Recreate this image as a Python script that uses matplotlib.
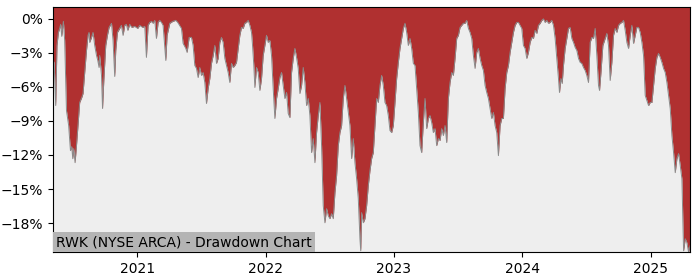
import numpy as np
import pandas as pd
import matplotlib
matplotlib.use("Agg")
import matplotlib.pyplot as plt
from matplotlib.ticker import MultipleLocator, PercentFormatter
import matplotlib.dates as mdates

# time in decimal years, drawdown in percent
t = [2020.345, 2020.354, 2020.366, 2020.376, 2020.387, 2020.397, 2020.405, 2020.413, 2020.426, 2020.436,
     2020.450, 2020.467, 2020.481, 2020.491, 2020.499, 2020.506, 2020.517, 2020.528, 2020.538, 2020.553,
     2020.569, 2020.579, 2020.592, 2020.606, 2020.618, 2020.626, 2020.631, 2020.645, 2020.657, 2020.670,
     2020.684, 2020.694, 2020.704, 2020.709, 2020.723, 2020.731, 2020.741, 2020.756, 2020.769, 2020.782,
     2020.801, 2020.813, 2020.826, 2020.834, 2020.847, 2020.865, 2020.878, 2020.891, 2020.904, 2020.917,
     2020.928, 2020.943, 2020.959, 2020.982, 2021.005, 2021.021, 2021.044, 2021.060, 2021.073, 2021.086,
     2021.099, 2021.114, 2021.125, 2021.138, 2021.151, 2021.164, 2021.177, 2021.190, 2021.203, 2021.224,
     2021.234, 2021.255, 2021.278, 2021.302, 2021.317, 2021.346, 2021.359, 2021.380, 2021.390, 2021.406,
     2021.424, 2021.437, 2021.450, 2021.463, 2021.476, 2021.489, 2021.502, 2021.515, 2021.528, 2021.541,
     2021.554, 2021.567, 2021.580, 2021.593, 2021.606, 2021.619, 2021.632, 2021.645, 2021.658, 2021.671,
     2021.684, 2021.697, 2021.710, 2021.723, 2021.736, 2021.749, 2021.762, 2021.775, 2021.788, 2021.801,
     2021.814, 2021.827, 2021.840, 2021.853, 2021.866, 2021.879, 2021.892, 2021.900, 2021.910, 2021.918,
     2021.931, 2021.944, 2021.957, 2021.970, 2021.983, 2021.996, 2022.009, 2022.022, 2022.035, 2022.048,
     2022.061, 2022.074, 2022.087, 2022.100, 2022.113, 2022.126, 2022.139, 2022.152, 2022.165, 2022.178,
     2022.191, 2022.204, 2022.217, 2022.230, 2022.243, 2022.256, 2022.269, 2022.282, 2022.295, 2022.308,
     2022.321, 2022.334, 2022.347, 2022.360, 2022.373, 2022.386, 2022.399, 2022.412, 2022.425, 2022.438,
     2022.451, 2022.464, 2022.477, 2022.490, 2022.503, 2022.516, 2022.529, 2022.542, 2022.555, 2022.568,
     2022.581, 2022.594, 2022.607, 2022.620, 2022.633, 2022.646, 2022.659, 2022.672, 2022.685, 2022.698,
     2022.711, 2022.724, 2022.737, 2022.743, 2022.750, 2022.763, 2022.776, 2022.789, 2022.802, 2022.815,
     2022.828, 2022.841, 2022.854, 2022.867, 2022.880, 2022.893, 2022.906, 2022.919, 2022.932, 2022.945,
     2022.958, 2022.971, 2022.984, 2022.997, 2023.010, 2023.023, 2023.036, 2023.049, 2023.062, 2023.075,
     2023.088, 2023.101, 2023.114, 2023.127, 2023.140, 2023.153, 2023.166, 2023.179, 2023.192, 2023.205,
     2023.218, 2023.231, 2023.244, 2023.257, 2023.270, 2023.283, 2023.296, 2023.309, 2023.322, 2023.335,
     2023.348, 2023.361, 2023.374, 2023.387, 2023.400, 2023.413, 2023.426, 2023.439, 2023.452, 2023.465,
     2023.478, 2023.491, 2023.504, 2023.517, 2023.530, 2023.543, 2023.556, 2023.569, 2023.582, 2023.595,
     2023.608, 2023.621, 2023.634, 2023.647, 2023.660, 2023.673, 2023.686, 2023.699, 2023.712, 2023.725,
     2023.738, 2023.751, 2023.764, 2023.777, 2023.790, 2023.803, 2023.816, 2023.829, 2023.842, 2023.855,
     2023.868, 2023.881, 2023.894, 2023.907, 2023.920, 2023.933, 2023.946, 2023.959, 2023.972, 2023.985,
     2023.998, 2024.011, 2024.024, 2024.037, 2024.050, 2024.063, 2024.076, 2024.089, 2024.102, 2024.115,
     2024.128, 2024.141, 2024.154, 2024.167, 2024.180, 2024.193, 2024.206, 2024.219, 2024.232, 2024.245,
     2024.258, 2024.271, 2024.284, 2024.292, 2024.303, 2024.313, 2024.323, 2024.336, 2024.349, 2024.362,
     2024.375, 2024.388, 2024.401, 2024.414, 2024.427, 2024.440, 2024.453, 2024.466, 2024.479, 2024.492,
     2024.505, 2024.518, 2024.531, 2024.544, 2024.557, 2024.570, 2024.583, 2024.596, 2024.604, 2024.615,
     2024.630, 2024.648, 2024.661, 2024.674, 2024.687, 2024.700, 2024.713, 2024.726, 2024.739, 2024.752,
     2024.765, 2024.778, 2024.791, 2024.804, 2024.817, 2024.830, 2024.843, 2024.856, 2024.869, 2024.882,
     2024.895, 2024.908, 2024.921, 2024.934, 2024.947, 2024.960, 2024.973, 2024.986, 2024.999, 2025.012,
     2025.025, 2025.038, 2025.051, 2025.064, 2025.077, 2025.090, 2025.103, 2025.116, 2025.129, 2025.142,
     2025.155, 2025.168, 2025.181, 2025.194, 2025.207, 2025.220, 2025.233, 2025.246, 2025.259, 2025.272,
     2025.285, 2025.298, 2025.309]

dd = [-3.68, -3.85, -7.65, -2.36, -1.21, -0.86, -0.50, -1.56, -0.24, -1.91,
      -8.09, -9.41, -11.62, -11.27, -12.33, -11.44, -12.68, -11.18, -9.68, -7.38,
      -6.94, -6.59, -4.74, -2.80, -1.47, -1.21, -2.09, -1.65, -1.21, -2.36,
      -3.24, -3.68, -4.30, -3.24, -5.00, -7.91, -5.44, -2.36, -1.47, -0.77,
      -0.41, -1.91, -5.09, -2.80, -1.21, -0.86, -0.59, -1.47, -0.59, -0.50,
      -1.03, -0.50, -0.77, -0.68, -0.86, -0.59, -0.77, -0.68, -3.41, -0.59,
      -0.33, -0.24, -0.41, -0.15, -1.74, -0.33, -0.15, -0.33, -0.59, -3.68,
      -1.47, -0.41, -0.24, -0.15, -0.33, -0.86, -2.18, -2.62, -2.97, -1.65,
      -1.65, -2.36, -4.12, -4.38, -5.18, -4.30, -5.00, -4.74, -5.62, -7.47,
      -6.15, -5.27, -3.94, -3.24, -2.36, -3.94, -3.50, -2.09, -1.65, -2.09,
      -3.50, -4.12, -4.74, -5.62, -3.94, -4.30, -4.12, -3.85, -2.62, -1.47,
      -0.77, -0.86, -0.41, -0.33, -0.15, -0.59, -1.21, -2.36, -4.12, -6.06,
      -4.30, -4.74, -6.32, -5.27, -3.24, -2.36, -1.47, -2.09, -1.91, -3.24,
      -6.15, -8.79, -7.03, -6.15, -5.18, -4.74, -5.88, -7.03, -6.50, -8.35,
      -8.71, -4.74, -3.50, -2.62, -3.41, -4.38, -6.59, -5.88, -4.30, -5.62,
      -7.65, -7.03, -8.53, -11.79, -10.56, -12.68, -10.03, -8.53, -7.38, -11.18,
      -16.47, -17.97, -16.73, -17.35, -17.61, -17.17, -17.61, -15.32, -13.82, -11.18,
      -10.03, -9.41, -7.03, -5.88, -7.03, -8.26, -9.41, -12.32, -10.56, -12.68,
      -14.09, -15.85, -19.38, -20.44, -17.08, -17.97, -17.61, -16.47, -14.70, -13.38,
      -12.32, -11.79, -9.41, -7.03, -7.38, -5.88, -5.00, -5.88, -7.38, -7.65,
      -8.53, -9.85, -10.03, -9.41, -7.38, -5.27, -3.85, -2.62, -1.74, -0.86,
      -0.41, -1.21, -2.36, -1.74, -2.62, -3.94, -4.12, -6.15, -8.26, -11.18,
      -11.79, -9.15, -7.03, -9.68, -8.79, -8.53, -9.15, -10.03, -9.68, -11.18,
      -10.56, -10.73, -9.68, -10.29, -9.41, -10.91, -7.03, -5.62, -4.74, -5.00,
      -3.50, -1.74, -1.47, -0.77, -0.59, -0.41, -0.41, -0.15, -0.86, -1.21,
      -1.74, -3.24, -4.38, -2.97, -2.62, -3.50, -4.12, -4.56, -5.88, -6.50,
      -7.03, -7.91, -8.79, -8.26, -9.41, -10.03, -12.06, -9.41, -8.79, -8.79,
      -6.15, -4.74, -4.12, -2.97, -2.09, -1.21, -0.59, -0.33, -0.33, -0.59,
      -0.86, -2.36, -2.62, -3.50, -2.97, -2.09, -1.65, -1.74, -1.03, -1.30,
      -0.59, -0.41, -0.15, -0.02, -0.33, -0.15, -0.41, -0.33, -0.15, -0.59,
      -1.74, -3.50, -5.27, -6.50, -5.27, -5.71, -4.12, -2.62, -1.74, -0.86,
      -0.77, -1.74, -2.09, -2.53, -2.80, -3.50, -3.85, -3.94, -4.30, -4.56,
      -5.00, -5.62, -2.09, -1.65, -1.74, -0.86, -3.24, -5.88, -6.32, -4.74,
      -2.36, -1.74, -1.30, -2.36, -5.44, -3.85, -1.47, -0.86, -1.21, -0.59,
      -0.41, -0.33, -0.15, -1.03, -2.09, -2.62, -1.47, -0.59, -2.18, -1.47,
      -0.77, -0.77, -1.21, -2.09, -3.24, -6.76, -7.19, -7.65, -7.38, -7.38,
      -5.88, -4.38, -3.41, -3.06, -3.41, -3.85, -4.38, -4.74, -5.62, -6.76,
      -7.91, -10.29, -11.79, -13.56, -12.32, -11.88, -12.94, -14.09, -20.44, -19.38,
      -19.73, -20.57, -20.00]

title = "RWK (NYSE ARCA) - Drawdown Chart"
years = [2021, 2022, 2023, 2024, 2025]

t = np.array(t)
dd = np.array(dd)
dates = pd.Timestamp("2020-01-01") + pd.to_timedelta((t - 2020) * 365.25, unit="D")

fig = plt.figure(figsize=(7, 2.8), dpi=100)
ax = fig.add_axes([0.0757, 0.099, 0.91, 0.875])
ax.set_facecolor("#eeeeee")

top = 1.0
ax.fill_between(dates, dd, top, color="#b03030", linewidth=0)
ax.plot(dates, dd, color="#8a8a8a", linewidth=0.7)

ax.set_xlim(dates[0], dates[-1])
ax.set_ylim(dd.min(), top)
ax.yaxis.set_major_locator(MultipleLocator(3))
ax.yaxis.set_major_formatter(PercentFormatter(xmax=100, decimals=0))
ax.set_xticks([pd.Timestamp(f"{y}-01-01") for y in years])
ax.xaxis.set_major_formatter(mdates.DateFormatter("%Y"))

ax.annotate(title, xy=(0, 0), xycoords="axes fraction", xytext=(2.2, 2.2),
            textcoords="offset points", ha="left", va="bottom", fontsize=10,
            bbox=dict(boxstyle="square,pad=0.22", facecolor="#b4b4b4", edgecolor="none"))

fig.savefig("out.png", dpi=100)
